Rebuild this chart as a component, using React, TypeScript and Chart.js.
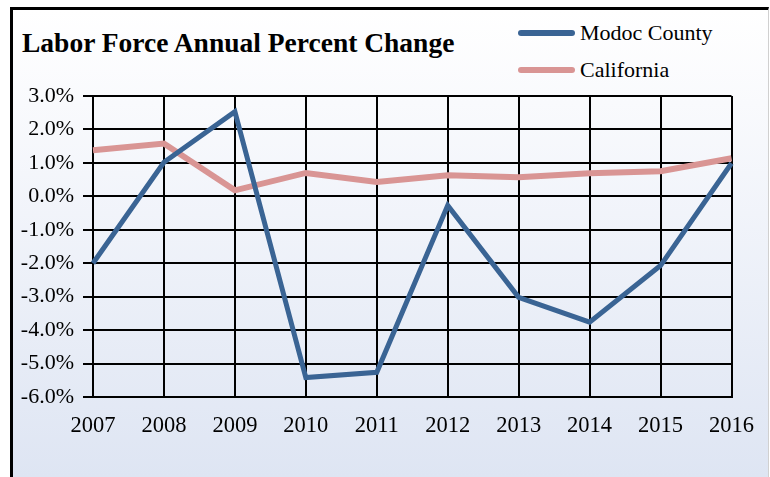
import React, { useEffect, useRef } from "react";
import { Chart, registerables } from "chart.js";

Chart.register(...registerables);

const years = ["2007", "2008", "2009", "2010", "2011", "2012", "2013", "2014", "2015", "2016"];
const modocCounty = [-2.0, 1.02, 2.53, -5.42, -5.26, -0.27, -3.02, -3.76, -2.07, 0.99];
const california = [1.38, 1.58, 0.18, 0.7, 0.43, 0.63, 0.57, 0.69, 0.75, 1.14];
const seriesNames = ["Modoc County", "California"];
const seriesColors = ["#3a6494", "#d99594"];
const yMin = -6;
const yMax = 3;
const yStep = 1;
const titleText = "Labor Force Annual Percent Change";

const FONT = '"Liberation Serif", "Times New Roman", serif';

export default function App() {
  const canvasRef = useRef<HTMLCanvasElement | null>(null);

  useEffect(() => {
    const canvas = canvasRef.current;
    if (!canvas) return;
    const chart = new Chart(canvas, {
      type: "line",
      data: {
        labels: years,
        datasets: [
          {
            label: seriesNames[0],
            data: modocCounty,
            borderColor: seriesColors[0],
            backgroundColor: seriesColors[0],
            borderWidth: 5,
            pointRadius: 0,
            tension: 0,
            fill: false,
          },
          {
            label: seriesNames[1],
            data: california,
            borderColor: seriesColors[1],
            backgroundColor: seriesColors[1],
            borderWidth: 6,
            pointRadius: 0,
            tension: 0,
            fill: false,
          },
        ],
      },
      options: {
        responsive: false,
        animation: false,
        devicePixelRatio: 1,
        layout: { padding: { top: 96, right: 38, left: 0, bottom: 0 } },
        plugins: {
          legend: { display: false },
          title: { display: false },
          tooltip: { enabled: false },
        },
        scales: {
          x: {
            type: "category",
            offset: false,
            grid: { color: "#000", lineWidth: 2, drawTicks: false },
            border: { color: "#000", width: 2 },
            ticks: {
              color: "#000",
              padding: 16,
              maxRotation: 0,
              autoSkip: false,
              font: { family: FONT, size: 22.5 },
            },
            afterFit: (axis: any) => {
              axis.height = 80;
            },
          },
          y: {
            min: yMin,
            max: yMax,
            grid: { color: "#000", lineWidth: 2, tickLength: 10 },
            border: { color: "#000", width: 2 },
            ticks: {
              stepSize: yStep,
              color: "#000",
              padding: 9,
              font: { family: FONT, size: 22 },
              callback: (v: any) => Number(v).toFixed(1) + "%",
            },
            afterFit: (axis: any) => {
              axis.width = 93;
            },
          },
        },
      },
    });
    return () => chart.destroy();
  }, []);

  const legendRow = (name: string, color: string, top: number) => (
    <div
      key={name}
      style={{ position: "absolute", left: 518, top: top - 15, height: 30, display: "flex", alignItems: "center" }}
    >
      <div style={{ width: 57, height: 6, borderRadius: 3, background: color }} />
      <span style={{ marginLeft: 5, fontFamily: FONT, fontSize: 22, color: "#000", whiteSpace: "nowrap" }}>{name}</span>
    </div>
  );

  return (
    <div style={{ position: "absolute", left: 0, top: 0, width: 770, height: 477, overflow: "hidden" }}>
      <div
        style={{
          position: "absolute",
          left: 10,
          top: 7,
          width: 759,
          height: 470,
          boxSizing: "border-box",
          borderLeft: "3px solid #000",
          borderTop: "3px solid #000",
          borderRight: "1px solid #d0d0d0",
          background: "linear-gradient(to bottom, #ffffff 0%, #f9fafd 20%, #dee5f3 100%)",
        }}
      />
      <div
        style={{
          position: "absolute",
          left: 22,
          top: 27,
          fontFamily: FONT,
          fontWeight: "bold",
          fontSize: 27.5,
          color: "#000",
          whiteSpace: "nowrap",
        }}
      >
        {titleText}
      </div>
      {legendRow(seriesNames[0], seriesColors[0], 33)}
      {legendRow(seriesNames[1], seriesColors[1], 70)}
      <canvas ref={canvasRef} width={770} height={477} style={{ position: "absolute", left: 0, top: 0, width: 770, height: 477 }} />
    </div>
  );
}
